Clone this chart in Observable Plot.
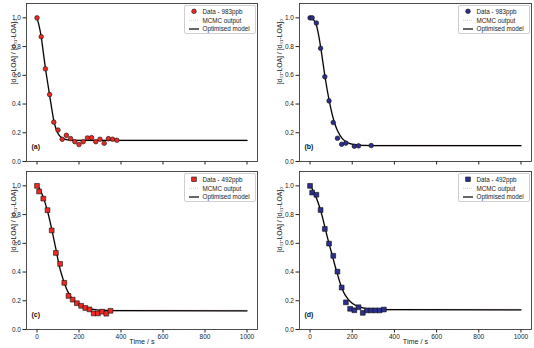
<!DOCTYPE html>
<html>
<head>
<meta charset="utf-8">
<script src="https://cdn.jsdelivr.net/npm/d3@7"></script>
<script src="https://cdn.jsdelivr.net/npm/@observablehq/plot@0.6"></script>
<style>
  html, body { margin: 0; padding: 0; background: #fff; }
  #root { position: relative; width: 534px; height: 348px; overflow: hidden; font-family: "Liberation Sans", Arial, sans-serif; }
  #root > svg, #root > .legend { position: absolute; }
  .legend { box-sizing: border-box; border: 0.7px solid #cfcfcf; border-radius: 2px; background: rgba(255,255,255,0.85); }
</style>
</head>
<body>
<div id="root"></div>
<script>
// ---- data ----
const xTicks = [0, 200, 400, 600, 800, 1000];
const yTicks = [0, 0.2, 0.4, 0.6, 0.8, 1.0];
const panelLabels = ["(a)", "(b)", "(c)", "(d)"];
const legendLabels = ["Data - 983ppb", "Data - 983ppb", "Data - 492ppb", "Data - 492ppb"];
const mcmcLabel = "MCMC output";
const modelLabel = "Optimised model";
const xLabel = "Time / s";
const yLabel = "[d\u2083\u2081-LOA] / [d\u2083\u2081-LOA]\u2080";

// panel (a): 983 ppb, red circles
const tA = [0, 20, 40, 60, 80, 100, 120, 140, 160, 180, 200, 220, 240, 260, 280, 300, 320, 340, 360, 380];
const vA = [1.0, 0.869, 0.645, 0.466, 0.274, 0.219, 0.155, 0.182, 0.159, 0.138, 0.118, 0.138, 0.164, 0.166, 0.138, 0.155, 0.127, 0.159, 0.155, 0.148];
const mtA = [0, 10, 20, 30, 40, 50, 60, 70, 80, 90, 100, 110, 120, 140, 160, 200, 300, 1000];
const mvA = [1.0, 0.945, 0.87, 0.76, 0.65, 0.555, 0.462, 0.37, 0.285, 0.23, 0.195, 0.175, 0.163, 0.152, 0.149, 0.147, 0.147, 0.147];

// panel (b): 983 ppb, navy circles
const tB = [0, 10, 30, 50, 70, 90, 110, 130, 150, 170, 210, 230, 290];
const vB = [1.0, 1.0, 0.964, 0.788, 0.59, 0.422, 0.271, 0.162, 0.12, 0.128, 0.106, 0.109, 0.111];
const mtB = [0, 10, 20, 30, 40, 50, 60, 70, 80, 90, 100, 110, 120, 130, 150, 170, 190, 210, 250, 300, 1000];
const mvB = [1.0, 0.995, 0.98, 0.95, 0.885, 0.8, 0.7, 0.6, 0.51, 0.43, 0.36, 0.3, 0.252, 0.215, 0.165, 0.138, 0.124, 0.117, 0.112, 0.111, 0.11];

// panel (c): 492 ppb, red squares
const tC = [0, 10, 30, 50, 70, 90, 110, 130, 150, 170, 190, 210, 230, 250, 270, 290, 310, 330, 350];
const vC = [1.0, 0.961, 0.911, 0.831, 0.69, 0.533, 0.457, 0.325, 0.234, 0.208, 0.183, 0.165, 0.15, 0.14, 0.112, 0.112, 0.124, 0.11, 0.13];
const mtC = [0, 10, 20, 30, 40, 50, 60, 70, 80, 90, 100, 110, 120, 130, 140, 150, 160, 170, 180, 190, 200, 220, 250, 300, 350, 1000];
const mvC = [1.0, 0.985, 0.955, 0.92, 0.875, 0.825, 0.765, 0.7, 0.63, 0.56, 0.485, 0.42, 0.37, 0.325, 0.285, 0.255, 0.23, 0.21, 0.193, 0.18, 0.17, 0.155, 0.143, 0.135, 0.132, 0.13];

// panel (d): 492 ppb, navy squares
const tD = [0, 10, 30, 50, 70, 90, 110, 130, 150, 170, 190, 210, 230, 250, 270, 290, 310, 330, 350];
const vD = [1.0, 0.953, 0.938, 0.832, 0.7, 0.598, 0.513, 0.403, 0.292, 0.189, 0.144, 0.134, 0.155, 0.116, 0.133, 0.133, 0.133, 0.133, 0.139];
const mtD = [0, 10, 20, 30, 40, 50, 60, 70, 80, 90, 100, 110, 120, 130, 140, 150, 160, 170, 180, 200, 220, 250, 300, 350, 400, 1000];
const mvD = [1.0, 0.98, 0.95, 0.915, 0.875, 0.83, 0.775, 0.715, 0.655, 0.598, 0.545, 0.49, 0.435, 0.385, 0.335, 0.292, 0.258, 0.232, 0.212, 0.183, 0.165, 0.151, 0.142, 0.139, 0.138, 0.137];

const red = "#ec2a22";
const navy = "#2c2f8c";
const mcmcColor = "#f3a9a9";

const zip = (t, v) => t.map((d, i) => ({t: d, v: v[i]}));

const panels = [
  {t: tA, v: vA, mt: mtA, mv: mvA, symbol: "circle", fill: red, left: 0, top: 0, width: 264, height: 170, ml: 26, mr: 7, mt_: 3, mb: 9, showX: false, ylabDx: -13},
  {t: tB, v: vB, mt: mtB, mv: mvB, symbol: "circle", fill: navy, left: 264, top: 0, width: 270, height: 170, ml: 35, mr: 3, mt_: 3, mb: 9, showX: false, ylabDx: -20},
  {t: tC, v: vC, mt: mtC, mv: mvC, symbol: "square", fill: red, left: 0, top: 168, width: 264, height: 180, ml: 26, mr: 7, mt_: 3, mb: 19, showX: true, ylabDx: -13},
  {t: tD, v: vD, mt: mtD, mv: mvD, symbol: "square", fill: navy, left: 264, top: 168, width: 270, height: 180, ml: 35, mr: 3, mt_: 3, mb: 19, showX: true, ylabDx: -20}
];

const root = document.getElementById("root");

panels.forEach((p, i) => {
  const data = zip(p.t, p.v);
  const model = zip(p.mt, p.mv);
  const isSquare = p.symbol === "square";
  const marks = [
    Plot.line(model, {x: "t", y: "v", stroke: "#b89a9a", strokeWidth: 2, strokeOpacity: 0.35, curve: "monotone-x"}),
    Plot.line(model, {x: "t", y: "v", stroke: "#000", strokeWidth: 1.2, curve: "monotone-x"}),
    Plot.dot(data, {x: "t", y: "v", symbol: p.symbol, r: isSquare ? 2.7 : 2.3, fill: p.fill, stroke: "#111", strokeWidth: 0.6}),
    Plot.text([panelLabels[i]], {text: d => d, frameAnchor: "bottom-left", textAnchor: "start", dx: 5, dy: -13, fontWeight: "bold", fontSize: 7, fill: "#111"}),
    Plot.text([yLabel], {text: d => d, frameAnchor: "left", rotate: -90, dx: p.ylabDx, dy: 2, fontSize: 6.8, fill: "#222"}),
    Plot.frame({stroke: "#3a3a3a", strokeWidth: 0.9})
  ];
  if (p.showX) {
    marks.push(Plot.text([xLabel], {text: d => d, frameAnchor: "bottom", dy: 14, fontSize: 7.2, fill: "#222"}));
  }
  const svg = Plot.plot({
    width: p.width,
    height: p.height,
    marginLeft: p.ml,
    marginRight: p.mr,
    marginTop: p.mt_,
    marginBottom: p.mb,
    style: {fontFamily: "'Liberation Sans', Arial, sans-serif", fontSize: "6.5px", color: "#222", background: "transparent", overflow: "visible"},
    x: {domain: [-50, 1050], ticks: xTicks, tickSize: 3.5, tickPadding: 1.5, label: null, tickFormat: p.showX ? (d => String(d)) : (() => "")},
    y: {domain: [0, 1.1], ticks: yTicks, tickSize: 3.5, tickPadding: 2, label: null, tickFormat: d3.format(".1f")},
    marks
  });
  svg.style.left = p.left + "px";
  svg.style.top = p.top + "px";
  root.appendChild(svg);

  // legend (upper right, inside the frame)
  const frameRight = p.left + p.width - p.mr;
  const frameTop = p.top + p.mt_;
  const lw = 72, lh = 29;
  const leg = document.createElement("div");
  leg.className = "legend";
  leg.style.left = (frameRight - lw - 1.5) + "px";
  leg.style.top = (frameTop + 1.5) + "px";
  leg.style.width = lw + "px";
  leg.style.height = lh + "px";
  const ns = "http://www.w3.org/2000/svg";
  const ls = document.createElementNS(ns, "svg");
  ls.setAttribute("width", lw);
  ls.setAttribute("height", lh);
  ls.style.position = "absolute";
  ls.style.left = "-0.7px";
  ls.style.top = "-0.7px";
  ls.style.overflow = "visible";
  const rows = [6.3, 15.3, 24];
  const mk = isSquare
    ? `<rect x="7.7" y="${rows[0] - 2.3}" width="4.6" height="4.6" fill="${p.fill}" stroke="#111" stroke-width="0.6"/>`
    : `<circle cx="10" cy="${rows[0]}" r="2.3" fill="${p.fill}" stroke="#111" stroke-width="0.6"/>`;
  ls.innerHTML = mk +
    `<line x1="5" x2="15" y1="${rows[1]}" y2="${rows[1]}" stroke="${mcmcColor}" stroke-width="0.8" stroke-dasharray="1,1"/>` +
    `<line x1="5" x2="15" y1="${rows[2]}" y2="${rows[2]}" stroke="#000" stroke-width="1.2"/>` +
    [legendLabels[i], mcmcLabel, modelLabel].map((s, k) =>
      `<text x="18.5" y="${rows[k]}" dy="0.35em" font-size="6.3" fill="#222" font-family="'Liberation Sans', Arial, sans-serif">${s}</text>`).join("");
  leg.appendChild(ls);
  root.appendChild(leg);
});
</script>
</body>
</html>
